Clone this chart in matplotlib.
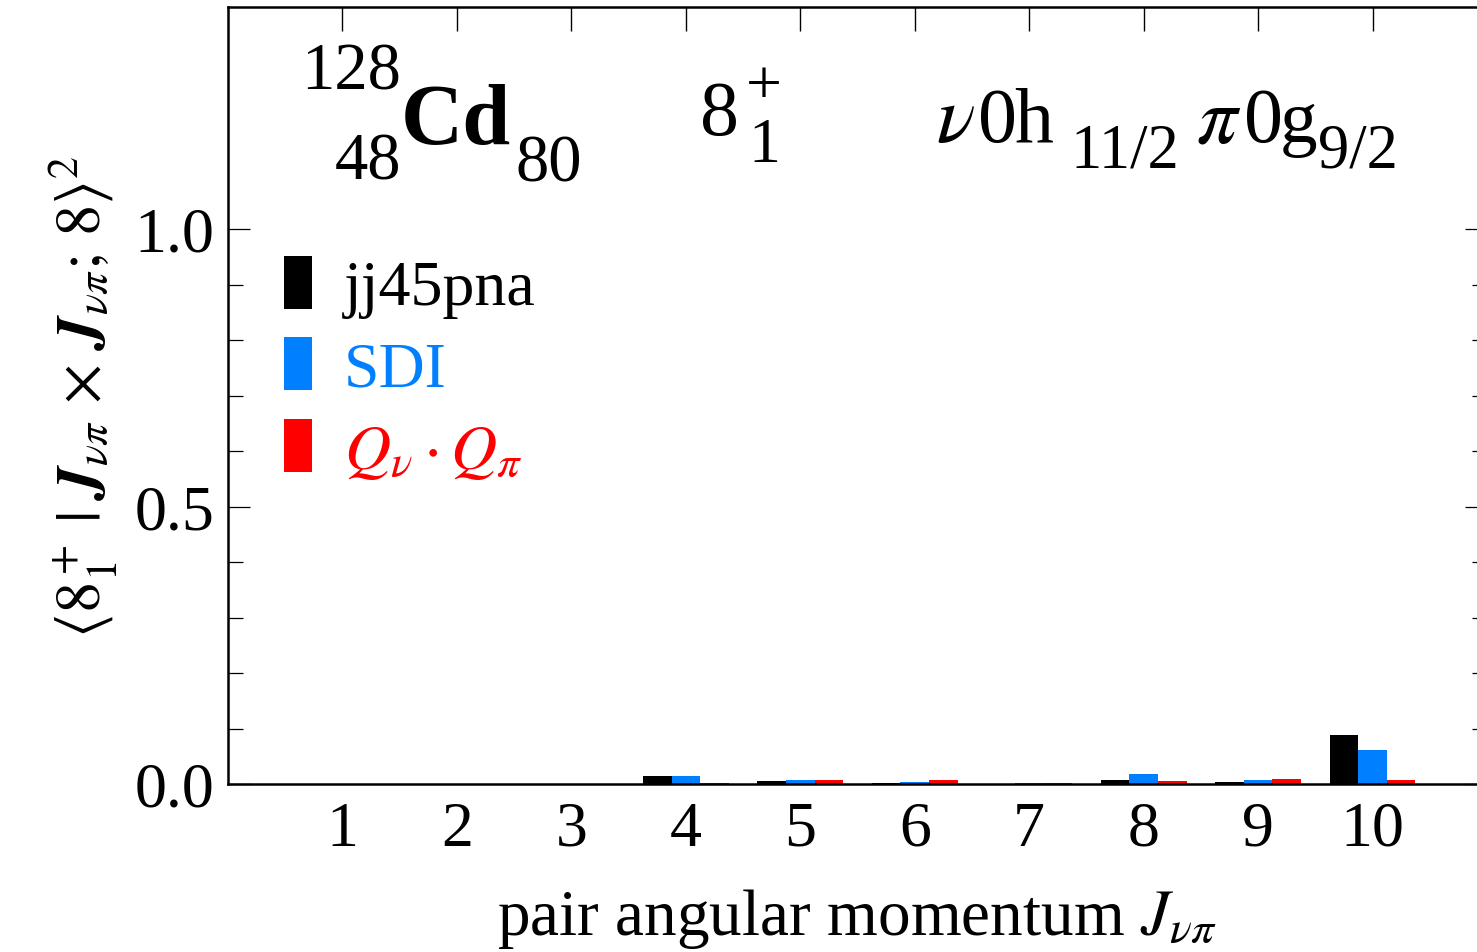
import matplotlib
matplotlib.use("Agg")
import matplotlib.pyplot as plt
import numpy as np

# ---- data ----
J_values = [1, 2, 3, 4, 5, 6, 7, 8, 9, 10]
jj45pna = [0.0, 0.0, 0.0, 0.015, 0.005, 0.002, 0.0005, 0.007, 0.003, 0.088]
sdi     = [0.0, 0.0, 0.0, 0.014, 0.008, 0.003, 0.001, 0.0175, 0.007, 0.061]
qq      = [0.0, 0.0, 0.0, 0.002, 0.007, 0.007, 0.001, 0.005, 0.0095, 0.007]
series_labels = ["jj45pna", "SDI", r"$Q_{\nu}\cdot Q_{\pi}$"]
series_colors = ["#000000", "#0080FF", "#FF0000"]
yticks_major = [0.0, 0.5, 1.0]
ytick_labels = ["0.0", "0.5", "1.0"]
yticks_minor = [0.1, 0.2, 0.3, 0.4, 0.6, 0.7, 0.8, 0.9]

plt.rcParams["font.family"] = ["Liberation Serif", "DejaVu Serif"]
plt.rcParams["mathtext.fontset"] = "stix"

W, H = 1477, 953
fig = plt.figure(figsize=(W / 100, H / 100), dpi=100)
ax = fig.add_axes([228 / W, (H - 785) / H, 1259 / W, 777 / H])

x = np.array(J_values, dtype=float)
bw = 0.25
for i, (vals, col, lab) in enumerate(zip([jj45pna, sdi, qq], series_colors, series_labels)):
    ax.bar(x + (i - 1) * bw, vals, width=bw, color=col, label=lab, linewidth=0)

ax.set_xlim(0, 11)
ax.set_ylim(0, 1.4)
ax.set_xticks(J_values)
ax.set_xticklabels([str(j) for j in J_values])
ax.set_yticks(yticks_major)
ax.set_yticklabels(ytick_labels)
ax.set_yticks(yticks_minor, minor=True)

for sp in ax.spines.values():
    sp.set_linewidth(1.8)

ax.tick_params(axis="y", which="major", direction="in", length=16, width=0.9,
               left=True, right=True, labelsize=46, pad=10)
ax.tick_params(axis="y", which="minor", direction="in", length=11, width=0.9,
               left=True, right=True)
ax.tick_params(axis="x", which="major", direction="in", length=17, width=1.0,
               bottom=False, top=True, labelbottom=True, labeltop=False,
               labelsize=46, pad=12)
ax.tick_params(axis="x", which="minor", bottom=False, top=False)

ax.set_xlabel(r"pair angular momentum $J_{\nu\pi}$", fontsize=47, labelpad=20)
ax.set_ylabel(r"$\langle 8_1^+\;|\;\mathbfit{J}_{\nu\pi}\,\times\,\mathbfit{J}_{\nu\pi};\,8\rangle^2$",
              fontsize=45, labelpad=10)

leg = ax.legend(loc="upper left", bbox_to_anchor=(0.024, 0.713), frameon=False,
                fontsize=46, handlelength=0.44, handleheight=0.9,
                handletextpad=0.5, labelspacing=0.3, borderaxespad=0)
for t, c in zip(leg.get_texts(), series_colors):
    t.set_color(c)

def ftext(px, py, s, size, **kw):
    fig.text(px / W, 1 - py / H, s, fontsize=size, va="baseline", **kw)

# nucleus label
ftext(401, 90, "128", 48, ha="right")
ftext(401, 180, "48", 48, ha="right")
ftext(401, 144, "Cd", 62, ha="left", fontweight="bold")
ftext(516, 182, "80", 48, ha="left")
# state label
ftext(700, 135, "8", 56, ha="left")
ftext(748, 162, "1", 46, ha="left")
ftext(746, 104, "+", 46, ha="left")
# orbital label
ftext(936, 142, r"$\nu$", 58, ha="left")
ftext(978, 142, "0", 56, ha="left")
ftext(1014, 142, "h", 56, ha="left")
ftext(1070, 167, "11/2", 45, ha="left")
ftext(1196, 142, r"$\pi$", 58, ha="left")
ftext(1244, 142, "0", 56, ha="left")
ftext(1280, 142, "g", 54, ha="left")
ftext(1318, 167, "9/2", 45, ha="left")

fig.savefig("out.png", dpi=100)
